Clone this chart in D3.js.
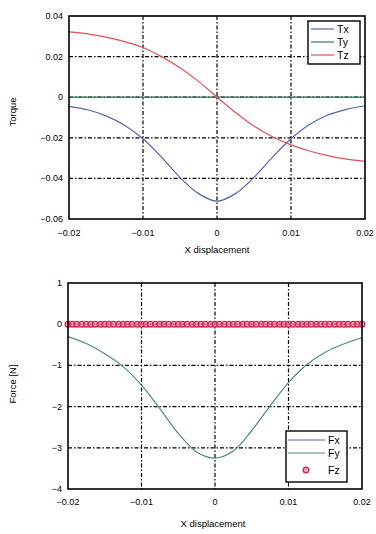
<!DOCTYPE html>
<html><head><meta charset="utf-8">
<script src="https://cdn.jsdelivr.net/npm/d3@7"></script>
<style>
body{margin:0;background:#fff;}
text{font-family:"Liberation Sans",Arial,sans-serif;}
</style></head>
<body>
<svg id="c" width="376" height="534"></svg>
<script>
// ---- data ----
const xs = [-0.02,-0.0175,-0.015,-0.0125,-0.01,-0.0075,-0.005,-0.0025,0,0.0025,0.005,0.0075,0.01,0.0125,0.015,0.0175,0.02];
const Tx = [-0.0045,-0.0062,-0.0092,-0.0138,-0.0205,-0.0295,-0.0395,-0.0475,-0.0512,-0.0475,-0.0395,-0.0295,-0.0205,-0.0135,-0.0088,-0.0060,-0.0042];
const Ty = [0,0,0,0,0,0,0,0,0,0,0,0,0,0,0,0,0];
const Tz = [0.0322,0.0312,0.0296,0.0274,0.0245,0.0200,0.0145,0.0078,0,-0.0075,-0.0142,-0.0195,-0.0235,-0.0265,-0.0288,-0.0305,-0.0316];
const Fx = [0,0,0,0,0,0,0,0,0,0,0,0,0,0,0,0,0];
const Fy = [-0.30,-0.47,-0.72,-1.03,-1.48,-2.05,-2.65,-3.10,-3.25,-3.08,-2.58,-1.98,-1.42,-0.98,-0.68,-0.48,-0.33];
const fzX = [-0.02,-0.0194,-0.0188,-0.0181,-0.0175,-0.0169,-0.0163,-0.0156,-0.015,-0.0144,-0.0138,-0.0131,-0.0125,-0.0119,-0.0113,-0.0106,-0.01,-0.0094,-0.0088,-0.0081,-0.0075,-0.0069,-0.0063,-0.0056,-0.005,-0.0044,-0.0038,-0.0031,-0.0025,-0.0019,-0.0013,-0.0006,0,0.0006,0.0013,0.0019,0.0025,0.0031,0.0038,0.0044,0.005,0.0056,0.0063,0.0069,0.0075,0.0081,0.0088,0.0094,0.01,0.0106,0.0113,0.0119,0.0125,0.0131,0.0138,0.0144,0.015,0.0156,0.0163,0.0169,0.0175,0.0181,0.0188,0.0194,0.02];
const Fz = fzX.map(() => 0);
const xTicks = [-0.02,-0.01,0,0.01,0.02];
const yTicksTop = [0.04,0.02,0,-0.02,-0.04,-0.06];
const yTicksBot = [1,0,-1,-2,-3,-4];

const svg = d3.select("#c");
const fmt = d => d===0 ? "0" : d3.format("")(d).replace("-","\u2212");
const TXT = "#000";

function panel(cfg){
  const x = d3.scaleLinear().domain([-0.02,0.02]).range([cfg.left,cfg.right]);
  const y = d3.scaleLinear().domain(cfg.ydom).range([cfg.bottom,cfg.top]);
  const g = svg.append("g");
  xTicks.slice(1,-1).forEach(t=>{
    g.append("line").attr("x1",x(t)).attr("x2",x(t)).attr("y1",cfg.top).attr("y2",cfg.bottom)
     .attr("stroke","#000").attr("stroke-width",1.2).attr("stroke-dasharray","4,2,1.5,2");
  });
  cfg.yticks.slice(1,-1).forEach(t=>{
    g.append("line").attr("x1",cfg.left).attr("x2",cfg.right).attr("y1",y(t)).attr("y2",y(t))
     .attr("stroke","#000").attr("stroke-width",1.2).attr("stroke-dasharray","4,2,1.5,2");
  });
  xTicks.forEach(t=>{
    g.append("text").attr("x",x(t)).attr("y",cfg.bottom+cfg.xlabOff).attr("text-anchor","middle")
     .attr("font-size",9).attr("fill",TXT).text(fmt(t));
  });
  cfg.yticks.forEach(t=>{
    g.append("text").attr("x",cfg.left-6).attr("y",y(t)+3).attr("text-anchor","end")
     .attr("font-size",9).attr("fill",TXT).text(fmt(t));
  });
  return {x,y,g};
}

// ---------- top panel ----------
const P1 = {left:69,right:365,top:16,bottom:219,ydom:[-0.06,0.04],yticks:yTicksTop,xlabOff:17};
const a = panel(P1);
const line1 = d3.line().x((d,i)=>a.x(xs[i])).y(d=>a.y(d)).curve(d3.curveCatmullRom.alpha(0.5));
a.g.append("path").datum(Ty).attr("d",line1).attr("fill","none").attr("stroke","#2f7d55").attr("stroke-width",1.2);
a.g.append("path").datum(Tx).attr("d",line1).attr("fill","none").attr("stroke","#5566aa").attr("stroke-width",1.2);
a.g.append("path").datum(Tz).attr("d",line1).attr("fill","none").attr("stroke","#e0505a").attr("stroke-width",1.2);
a.g.append("rect").attr("x",P1.left).attr("y",P1.top).attr("width",P1.right-P1.left).attr("height",P1.bottom-P1.top)
  .attr("fill","none").attr("stroke","#000").attr("stroke-width",1.6);
const L1 = a.g.append("g");
L1.append("rect").attr("x",308).attr("y",21).attr("width",52).attr("height",43).attr("fill","#fff").attr("stroke","#000").attr("stroke-width",1.4);
[["Tx","#5566aa"],["Ty","#2f7d55"],["Tz","#e0505a"]].forEach((e,i)=>{
  const yy = 29+i*13;
  L1.append("line").attr("x1",311).attr("x2",334).attr("y1",yy).attr("y2",yy).attr("stroke",e[1]).attr("stroke-width",1.2);
  L1.append("text").attr("x",337).attr("y",yy+4).attr("font-size",10.5).attr("fill",TXT).text(e[0]);
});
svg.append("text").attr("x",217).attr("y",253).attr("text-anchor","middle").attr("font-size",9.5).attr("fill",TXT).text("X displacement");
svg.append("text").attr("transform","translate(16,112) rotate(-90)").attr("text-anchor","middle").attr("font-size",9.5).attr("fill",TXT).text("Torque");

// ---------- bottom panel ----------
const P2 = {left:68,right:362,top:283,bottom:489,ydom:[-4,1],yticks:yTicksBot,xlabOff:16};
const b = panel(P2);
const line2 = d3.line().x((d,i)=>b.x(xs[i])).y(d=>b.y(d)).curve(d3.curveCatmullRom.alpha(0.5));
b.g.append("path").datum(Fx).attr("d",line2).attr("fill","none").attr("stroke","#5566aa").attr("stroke-width",1.2);
b.g.append("path").datum(Fy).attr("d",line2).attr("fill","none").attr("stroke","#4a8f74").attr("stroke-width",1.2);
b.g.selectAll("circle.fz").data(Fz).enter().append("circle").attr("class","fz")
  .attr("cx",(d,i)=>b.x(fzX[i])).attr("cy",d=>b.y(d)).attr("r",2.8)
  .attr("fill","#f08ca0").attr("fill-opacity",0.6).attr("stroke","#e0264f").attr("stroke-width",1.4);
b.g.append("rect").attr("x",P2.left).attr("y",P2.top).attr("width",P2.right-P2.left).attr("height",P2.bottom-P2.top)
  .attr("fill","none").attr("stroke","#000").attr("stroke-width",1.6);
const L2 = b.g.append("g");
L2.append("rect").attr("x",286).attr("y",431).attr("width",61).attr("height",51).attr("fill","#fff").attr("stroke","#000").attr("stroke-width",1.4);
[["Fx","#5566aa"],["Fy","#4a8f74"]].forEach((e,i)=>{
  const yy = 440+i*13;
  L2.append("line").attr("x1",288).attr("x2",325).attr("y1",yy).attr("y2",yy).attr("stroke",e[1]).attr("stroke-width",1.2);
  L2.append("text").attr("x",328).attr("y",yy+4).attr("font-size",10.5).attr("fill",TXT).text(e[0]);
});
L2.append("circle").attr("cx",306).attr("cy",470).attr("r",2.8).attr("fill","#f08ca0").attr("fill-opacity",0.6).attr("stroke","#e0264f").attr("stroke-width",1.4);
L2.append("text").attr("x",328).attr("y",474).attr("font-size",10.5).attr("fill",TXT).text("Fz");
svg.append("text").attr("x",213).attr("y",527).attr("text-anchor","middle").attr("font-size",9.5).attr("fill",TXT).text("X displacement");
svg.append("text").attr("transform","translate(16,384) rotate(-90)").attr("text-anchor","middle").attr("font-size",9.5).attr("fill",TXT).text("Force [N]");
</script>
</body></html>
